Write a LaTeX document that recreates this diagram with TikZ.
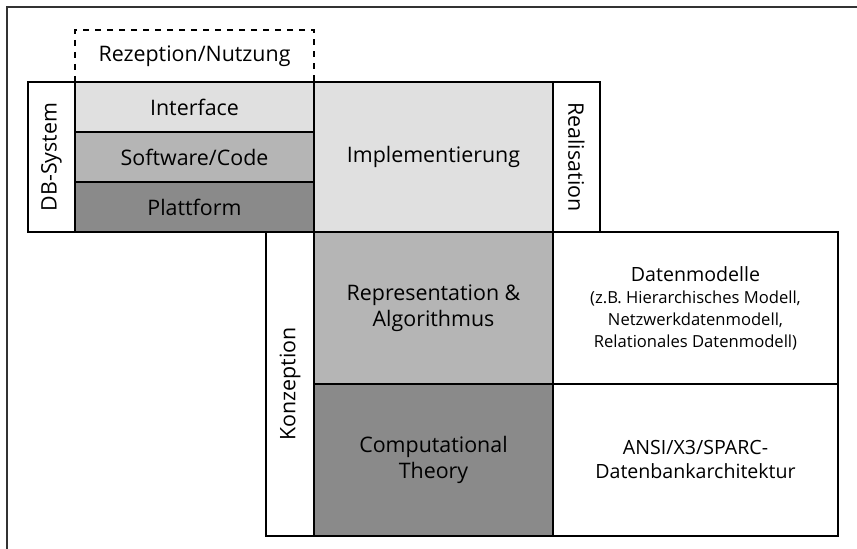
\documentclass[tikz,border=0pt]{standalone}
\usepackage{fontspec}
\setmainfont{Open Sans}
\usepackage{tikz}
\usepackage{xcolor}

\begin{document}
\begin{tikzpicture}[x=0.5pt,y=-0.5pt,
  box/.style={draw,line width=1pt,rectangle,inner sep=0pt,outer sep=0pt,
    align=center,font=\fontsize{10.7}{13}\selectfont},
  wide/.style={box,minimum width=119.5pt},
  side/.style={box,minimum width=23.5pt},
  note/.style={box,minimum width=142.5pt,minimum height=76pt,font=\fontsize{9.8}{12}\selectfont}]
\definecolor{light}{HTML}{E0E0E0}
\definecolor{mid}{HTML}{B5B5B5}
\definecolor{dark}{HTML}{8A8A8A}
\useasboundingbox (0,0) rectangle (857,549);
\draw[line width=1pt,black!80] (7,549) -- (7,7) -- (857,7);
% Rezeption, system layers
\node[wide,dashed,minimum height=26pt] (rez) at (194.5,56) {Rezeption/Nutzung};
\foreach \lyr/\crlr/\ypos in {Interface/light/107,Software\slash Code/mid/157,Plattform/dark/207}
  {\node[wide,fill=\crlr,minimum height=25pt] (\crlr) at (194.5,\ypos) {\lyr};}
\node[side,minimum height=75pt] (db) at (51.5,157) {\rotatebox{90}{DB-System}};
\node[wide,fill=light,minimum height=75pt] (impl) at (433.5,157) {Implementierung};
\node[side,minimum height=75pt] (real) at (576.5,157) {\rotatebox{-90}{Realisation}};
% Konzeption
\node[side,minimum width=24pt,minimum height=152pt] (konz) at (290,384) {\rotatebox{90}{Konzeption}};
\node[wide,fill=mid,minimum height=76pt] (repr) at (433.5,308) {Representation \&\\Algorithmus};
\node[wide,fill=dark,minimum height=76pt] (comp) at (433.5,460) {Computational\\Theory};
\node[note] (daten) at (695.5,308)
  {Datenmodelle\\[-1pt]{\fontsize{8.3}{11}\selectfont (z.B. Hierarchisches Modell,}\\[-1pt]
   {\fontsize{8.3}{11}\selectfont Netzwerkdatenmodell,}\\[-1pt]
   {\fontsize{8.3}{11}\selectfont Relationales Datenmodell)}};
\node[note] (ansi) at (695.5,460) {ANSI/X3/SPARC-\\Datenbankarchitektur};
\end{tikzpicture}
\end{document}
